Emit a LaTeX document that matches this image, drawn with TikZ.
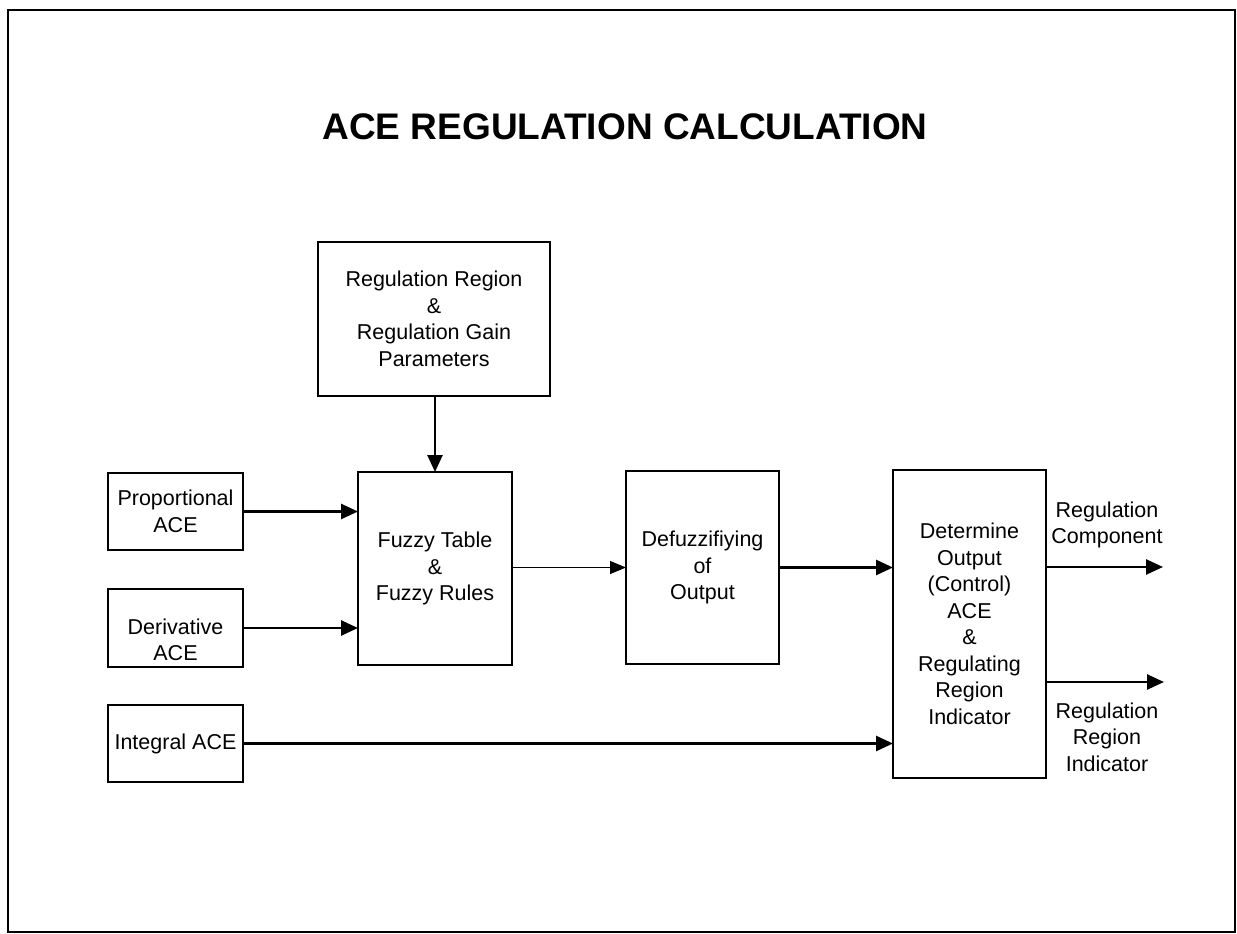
\documentclass[tikz,border=0pt]{standalone}
\usepackage{fontspec}
\setmainfont{Liberation Sans}
\usetikzlibrary{arrows.meta}
\begin{document}
\begin{tikzpicture}[x=1pt,y=-1pt,
  blk/.style={draw,line width=2pt,inner sep=0pt,outer sep=0pt,align=center,
    font=\fontsize{21.5}{26.5}\selectfont},
  txt/.style={align=center,inner sep=0pt,font=\fontsize{21.5}{26.5}\selectfont},
  flow/.style={line width=2.6pt,-{Triangle[length=17pt,width=15pt]}},
  thinflow/.style={line width=1pt,-{Triangle[length=16pt,width=13pt]}}]
\useasboundingbox (0,0) rectangle (1237,934);
% outer frame
\draw[line width=2pt] (8,10) rectangle (1235,932);

% title
\node[font=\bfseries\fontsize{37}{44}\selectfont] (title) at (625,127) {ACE REGULATION CALCULATION};

% blocks
\node[blk,minimum width=232pt,minimum height=154pt] (reg) at (434,319)
  {Regulation Region\\\&\\Regulation Gain\\Parameters};
\node[blk,minimum width=135pt,minimum height=77pt] (prop) at (175.5,511.5)
  {Proportional\\ACE};
\node[blk,minimum width=135pt,minimum height=78pt,
  label={[txt,yshift=-12pt]center:{Derivative\\ACE}}] (deriv) at (175.5,628) {};
\node[blk,minimum width=135pt,minimum height=77pt] (integ) at (175.5,743.5)
  {Integral ACE};
\node[blk,minimum width=154pt,minimum height=193pt] (fuzzy) at (435,568.5)
  {Fuzzy Table\\\&\\Fuzzy Rules};
\node[blk,minimum width=153pt,minimum height=193pt] (defuz) at (702.5,567.5)
  {Defuzzifiying\\of\\Output};
\node[blk,minimum width=153pt,minimum height=308pt] (det) at (969.5,624)
  {Determine\\Output\\(Control)\\ACE\\\&\\Regulating\\Region\\Indicator};

% output ends
\coordinate (o1) at (1163,567);
\coordinate (o2) at (1164,682);

% connectors
\draw[flow] (fuzzy.north |- reg.south) -- (fuzzy.north);
\draw[flow] (prop.east) -- (fuzzy.west |- prop.east);
\draw[flow] (deriv.east) -- (fuzzy.west |- deriv.east);
\draw[flow] (integ.east) -- (det.west |- integ.east);
\draw[thinflow] (fuzzy.east |- defuz.west) -- (defuz.west);
\draw[flow] (defuz.east) -- (det.west |- defuz.east);
\draw[flow] (det.east |- o1) -- (o1);
\draw[flow] (det.east |- o2) -- (o2);

% output labels
\node[txt] (l1) at (1107,525) {Regulation\\Component};
\node[txt] (l2) at (1107,737) {Regulation\\Region\\Indicator};
\end{tikzpicture}
\end{document}
